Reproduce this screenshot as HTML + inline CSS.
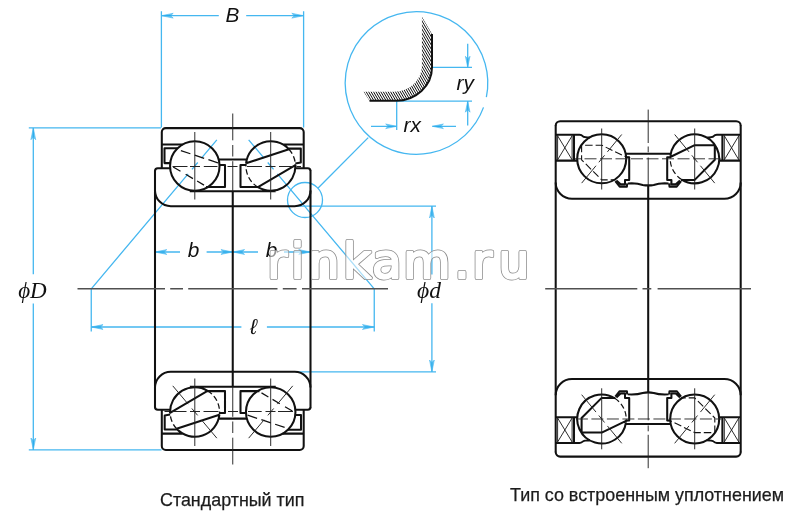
<!DOCTYPE html>
<html lang="ru"><head><meta charset="utf-8"><title>Подшипник</title>
<style>
html,body{margin:0;padding:0;background:#fff;}
body{width:800px;height:523px;overflow:hidden;position:relative;font-family:"Liberation Sans",sans-serif;}
svg{position:absolute;left:0;top:0;display:block;filter:blur(0.35px);}
.si{font-family:"Liberation Sans",sans-serif;font-style:italic;font-size:20.8px;fill:#111;}
.ti{font-family:"Liberation Serif",serif;font-style:italic;font-size:21px;fill:#111;}
.cap{font-family:"Liberation Sans",sans-serif;font-size:17.9px;fill:#1c1c1c;stroke:#1c1c1c;stroke-width:0.25px;}
.wm{font-family:"DejaVu Sans",sans-serif;font-size:48.5px;stroke-linejoin:round;stroke-linecap:round;}
</style></head><body>
<svg width="800" height="523" viewBox="0 0 800 523">
<rect width="800" height="523" fill="#fff"/>

<g fill="none" stroke="#45b7f0" stroke-width="1.3">
<path d="M216.84,139.85 L201.44,158.12 M197.76,162.48 L191.96,169.36 M188.16,173.88 L91.25,288.8" stroke="#45b7f0" stroke-width="1.3" fill="none"/>
<path d="M248.66,139.85 L264.06,158.12 M267.74,162.48 L273.54,169.36 M277.34,173.88 L374.25,288.8" stroke="#45b7f0" stroke-width="1.3" fill="none"/>
<path d="M91.25,288.8 V331.5 M374.25,288.8 V331.5"/>
<path d="M91.25,327 H241.4 M266.9,327 H374.25  "/>
<path d="M155,252 H180 M206.6,252 H258 M284,252 H310.5    "/>
<path d="M161.4,11.2 V127.5 M303.6,11.2 V127.5 M161.4,15.7 H218.8 M246.2,15.7 H303.6  "/>
<path d="M28.8,127.9 H161 M28.8,449.8 H161.5 M33.3,127.9 V274.2 M33.3,303.5 V449.8  "/>
<path d="M296,206.2 H436 M296,371.8 H436 M431.9,206.2 V274.5 M431.9,303.2 V371.8  "/>
<circle cx="305" cy="200" r="17.5"/>
<path d="M317.9,188.2 L368.2,137.6"/>
<path d="M483.5,107.39 A71.3,71.3 0 1 1 486.37,97.21"/>
<path d="M431.5,67.3 H472 M396.5,101.2 H472 M467.7,43.7 V67.3 M467.7,125.6 V101.2  "/>
<path d="M396.7,101.2 V130 M371,126.3 H396.7 M432.4,126.3 H456  "/>
<path d="M103.05,324.6 L91.25,327 L103.05,329.4 L100.55,327 Z M362.45,324.6 L374.25,327 L362.45,329.4 L364.95,327 Z M166.8,249.6 L155,252 L166.8,254.4 L164.3,252 Z M220.95,249.6 L232.75,252 L220.95,254.4 L223.45,252 Z M244.55,249.6 L232.75,252 L244.55,254.4 L242.05,252 Z M298.7,249.6 L310.5,252 L298.7,254.4 L301.2,252 Z M173.2,13.3 L161.4,15.7 L173.2,18.1 L170.7,15.7 Z M291.8,13.3 L303.6,15.7 L291.8,18.1 L294.3,15.7 Z M30.9,139.7 L33.3,127.9 L35.7,139.7 L33.3,137.2 Z M30.9,438 L33.3,449.8 L35.7,438 L33.3,440.5 Z M429.5,218 L431.9,206.2 L434.3,218 L431.9,215.5 Z M429.5,360 L431.9,371.8 L434.3,360 L431.9,362.5 Z M465.4,56.3 L467.7,67.3 L470,56.3 L467.7,58.8 Z M465.4,112.2 L467.7,101.2 L470,112.2 L467.7,109.7 Z M385.7,124 L396.7,126.3 L385.7,128.6 L388.2,126.3 Z M443.4,124 L432.4,126.3 L443.4,128.6 L440.9,126.3 Z" fill="#1aa6ea" fill-opacity="0.65" stroke-width="0.6"/>
</g>

<g id="lh" fill="none" stroke="#111" stroke-width="2.05" stroke-linejoin="round">
<circle cx="194.8" cy="166" r="24.75"/>
<path d="M161.8,167.6 L161.8,132.1 A4,4 0 0 1 165.8,128.1 L299.7,128.1 A4,4 0 0 1 303.7,132.1 L303.7,167.6 M161.9,144.4 L182.72,144.4 M303.6,144.4 L282.78,144.4 M177.5,148.3 L164.5,148.3 L164.5,163.1 L170.22,163.1 M288.3,148.6 L300.8,148.6 L300.8,162.6 L295.33,163.6 M218.65,159.4 L246.85,159.4 M219.53,165 L225,165 L225,186.9 L206.06,186.9 M245.97,165 L240.5,165 L240.5,186.9 L258.44,186.9 M155,171 Q155,168.2 157.8,168.2 L170.15,168.2 M310.5,171 Q310.5,168.2 307.7,168.2 L295.35,168.2 M189.8,191.2 L275.7,191.2 M155,190.4 A15.8,15.8 0 0 0 170.8,206.2 L294.7,206.2 A15.8,15.8 0 0 0 310.5,190.4 M246.09,163.33 A24.75,24.75 0 0 1 288.9,149.23 M295.43,165.09 A24.75,24.75 0 0 1 257.95,187.21 M246.09,163.33 L288.9,149.23 M257.95,187.21 L295.43,165.09"/>
<path d="M288.9,149.23 A24.75,24.75 0 0 1 295.43,165.09 M257.95,187.21 A24.75,24.75 0 0 1 246.09,163.33" stroke-width="1.3" stroke-dasharray="5.5 2.8"/>
<path d="M176.6,149.23 L219.41,163.33" stroke-width="1.25" stroke-dasharray="0 4.5 10 4.5 10 4.5 10 99"/>
<path d="M170.07,165.09 L207.55,187.21" stroke-width="1.25" stroke-dasharray="0 3.6 8.5 6 8.5 4.8 8 99"/>
<path d="M194.8,132 L194.8,199.5 M270.7,132 L270.7,199.5" stroke-width="0.95" stroke="#222"/>
<path d="M172.5,166.5 H187.5 M190,166.5 H200 M203.8,166.5 H217.5 M227.5,166.5 H237.5 M247,166.5 H262 M265.5,166.5 H275.5 M279,166.5 H293 M296.5,166.5 H301" stroke-width="1" stroke="#222"/>
<path d="M232.75,113.5 L232.75,140.3 M232.75,145 L232.75,156.5 M232.75,161.2 L232.75,192" stroke-width="0.95" stroke="#222"/>
</g>
<use href="#lh" transform="rotate(180 232.75 289)"/>
<path d="M155,170.5 L155,407.5 M310.5,170.5 L310.5,407.5 M232.75,191.2 L232.75,386.8" fill="none" stroke="#111" stroke-width="2.05"/>
<path d="M77.5,288.8 H165 M170.2,288.8 H183 M188.2,288.8 H277.5 M282.8,288.8 H296.6 M302,288.8 H388" stroke="#505050" stroke-width="1.6" fill="none"/>
<path d="M172.76,385.85 L188.16,404.12 M191.84,408.48 L197.64,415.36 M201.44,419.88 L216.84,438.15" stroke="#222" stroke-width="0.95" fill="none"/>
<path d="M292.74,385.85 L277.34,404.12 M273.66,408.48 L267.86,415.36 M264.06,419.88 L248.66,438.15" stroke="#222" stroke-width="0.95" fill="none"/>

<clipPath id="bandc"><path d="M369.5,100.8 L396,100.8 A36,33.5 0 0 0 432,67.3 L432,33.9 L421.9,16.7 L421.9,66 A28,26 0 0 1 394,91.8 L363.6,91.8 Z"/></clipPath>
<path d="M417.95,10 L474.5,106 M415.52,10 L472.06,106 M413.08,10 L469.63,106 M410.64,10 L467.19,106 M408.2,10 L464.75,106 M405.77,10 L462.32,106 M403.33,10 L459.88,106 M400.89,10 L457.44,106 M398.46,10 L455,106 M396.02,10 L452.57,106 M393.58,10 L450.13,106 M391.14,10 L447.69,106 M388.71,10 L445.25,106 M386.27,10 L442.82,106 M383.83,10 L440.38,106 M381.39,10 L437.94,106 M378.96,10 L435.51,106 M376.52,10 L433.07,106 M374.08,10 L430.63,106 M371.65,10 L428.19,106 M369.21,10 L425.76,106 M366.77,10 L423.32,106 M364.33,10 L420.88,106 M361.9,10 L418.45,106 M359.46,10 L416.01,106 M357.02,10 L413.57,106 M354.59,10 L411.13,106 M352.15,10 L408.7,106 M349.71,10 L406.26,106 M347.27,10 L403.82,106 M344.84,10 L401.38,106 M342.4,10 L398.95,106 M339.96,10 L396.51,106 M337.52,10 L394.07,106 M335.09,10 L391.64,106 M332.65,10 L389.2,106 M330.21,10 L386.76,106 M327.78,10 L384.32,106 M325.34,10 L381.89,106 M322.9,10 L379.45,106 M320.46,10 L377.01,106 M318.03,10 L374.57,106 M315.59,10 L372.14,106 M313.15,10 L369.7,106 M310.71,10 L367.26,106 M308.28,10 L364.83,106 M305.84,10 L362.39,106 M303.4,10 L359.95,106 M300.97,10 L357.51,106 M298.53,10 L355.08,106 M296.09,10 L352.64,106 M293.65,10 L350.2,106 M291.22,10 L347.77,106 M288.78,10 L345.33,106 M286.34,10 L342.89,106 M283.91,10 L340.45,106 M281.47,10 L338.02,106 M279.03,10 L335.58,106" stroke="#000" stroke-width="0.95" fill="none" clip-path="url(#bandc)"/>
<path d="M369.5,100.8 L396,100.8 A36,33.5 0 0 0 432,67.3 L432,33.9" stroke="#111" stroke-width="2" fill="none"/>
<g id="rh" fill="none" stroke="#111" stroke-width="2.05" stroke-linejoin="round">
<circle cx="601.7" cy="158.8" r="24.5"/>
<path d="M555.7,126 L555.7,125.7 A4.5,4.5 0 0 1 560.2,121.2 L736.2,121.2 A4.5,4.5 0 0 1 740.7,125.7 L740.7,126 M555.7,134.8 L579.5,134.8 Q581.5,134.9 583,136.4 Q584,137.5 589.92,137.6 M574,134.8 L574,160.6 M555.7,160.6 L577.27,160.6 M740.7,134.8 L716.9,134.8 Q714.9,134.9 713.4,136.4 Q712.4,137.5 706.48,137.6 M722.4,134.8 L722.4,160.6 M740.7,160.6 L719.13,160.6 M625.68,153.8 L670.72,153.8 M626.15,157.2 L629.2,157.2 L629.2,179.9 L625,179.9 L625,184.2 L620.6,184.2 L616.4,180.4 M627.2,183.4 L626.9,186.6 L619.7,186.6 L615.3,181.2 M670.25,157.2 L667.2,157.2 L667.2,179.9 L671.4,179.9 L671.4,184.2 L675.8,184.2 L680,180.4 M669.2,183.4 L669.5,186.6 L676.7,186.6 L681.1,181.2 M627.9,183.5 L631.7,183.2 Q638.2,183.5 642.7,184.9 Q648.2,185.9 653.7,184.9 Q658.2,183.5 664.7,183.2 L668.5,183.5 M555.7,182.5 A16.3,16.3 0 0 0 572,198.8 L724.4,198.8 A16.3,16.3 0 0 0 740.7,182.5 M670.42,155.52 A24.5,24.5 0 1 1 681.62,179.52 M667.5,157.2 L670.3,157 L694.7,145.2 L714.8,145.2 L714.8,159.8 L694.7,179.9 L681,179.9"/>
<path d="M681.62,179.52 A24.5,24.5 0 0 1 670.42,155.52" stroke-width="1.2" stroke-dasharray="5.5 2.8"/>
<path d="M628.9,157.2 L626.1,157 L601.7,145.2 L581.6,145.2 L581.6,159.8 L601.7,179.9 L615.4,179.9" stroke-width="1.1" stroke-dasharray="7.5 3" stroke-dashoffset="3"/>
<path d="M557.6,135.8 L572.1,159.8 M572.1,135.8 L557.6,159.8 M557.6,135 V160.5 M572.1,135 V160.5 M738.8,135.8 L724.3,159.8 M724.3,135.8 L738.8,159.8 M738.8,135 V160.5 M724.3,135 V160.5 M601.7,128.5 V189.5 M694.7,128.5 V189.5" stroke-width="0.95" stroke="#222"/>
<path d="M575,158.8 H722" stroke-width="0.9" stroke="#222" stroke-dasharray="12 3.5" stroke-dashoffset="6"/>
<path d="M648.2,109.6 V143 M648.2,146.5 V152.3 M648.2,157.5 V186" stroke-width="0.95" stroke="#222"/>
</g>
<use href="#rh" transform="rotate(180 648.2 288.9)"/>
<path d="M555.7,125.5 V452.3 M740.7,125.5 V452.3 M648.2,185.4 V392.4" fill="none" stroke="#111" stroke-width="2.05"/>
<path d="M545.2,288.7 H637.3 M642.5,288.7 H651.3 M657.6,288.7 H751" stroke="#505050" stroke-width="1.6" fill="none"/>
<path d="M621.73,134.49 L607.42,151.85 M604.56,155.33 L598.84,162.27 M595.98,165.75 L581.67,183.11" stroke="#222" stroke-width="0.95" fill="none"/>
<path d="M674.67,134.49 L688.98,151.85 M691.84,155.33 L697.56,162.27 M700.42,165.75 L714.73,183.11" stroke="#222" stroke-width="0.95" fill="none"/>
<path d="M581.67,394.69 L595.98,412.05 M598.84,415.53 L604.56,422.47 M607.42,425.95 L621.73,443.31" stroke="#222" stroke-width="0.95" fill="none"/>
<path d="M714.73,394.69 L700.42,412.05 M697.56,415.53 L691.84,422.47 M688.98,425.95 L674.67,443.31" stroke="#222" stroke-width="0.95" fill="none"/>
<text class="si" x="225.5" y="21.6">B</text>
<text class="si" x="187.8" y="257.3">b</text>
<text class="si" x="265.8" y="257.3">b</text>
<text class="si" x="250" y="334.3" style="font-size:21.5px">&#x2113;</text>
<text class="si" x="456.5" y="89.6">ry</text>
<text class="si" x="403.5" y="131.5">rx</text>
<text class="ti" x="18.2" y="298.4" style="font-size:23px">&#x3d5;D</text>
<text class="ti" x="417" y="297.6" style="font-size:23.5px">&#x3d5;d</text>
<mask id="wmm" maskUnits="userSpaceOnUse" x="250" y="220" width="300" height="80"><rect x="250" y="220" width="300" height="80" fill="#fff"/><text class="wm" x="267.2 290.7 308.8 342.9 372 403.3 454.3 472.2 498.5" y="278.1" fill="#000" stroke="#000" stroke-width="2.4">rinkam.ru</text></mask>
<text class="wm" x="267.2 290.7 308.8 342.9 372 403.3 454.3 472.2 498.5" y="278.1" fill="#fff" stroke="#fff" stroke-width="3.2" opacity="0.55">rinkam.ru</text>
<text class="wm" x="267.2 290.7 308.8 342.9 372 403.3 454.3 472.2 498.5" y="278.1" fill="#8c8c8c" stroke="#8c8c8c" stroke-width="3.9" mask="url(#wmm)">rinkam.ru</text>
<text class="cap" x="160" y="506.2">Стандартный тип</text>
<text class="cap" x="510" y="501">Тип со встроенным уплотнением</text>
</svg>
</body></html>
